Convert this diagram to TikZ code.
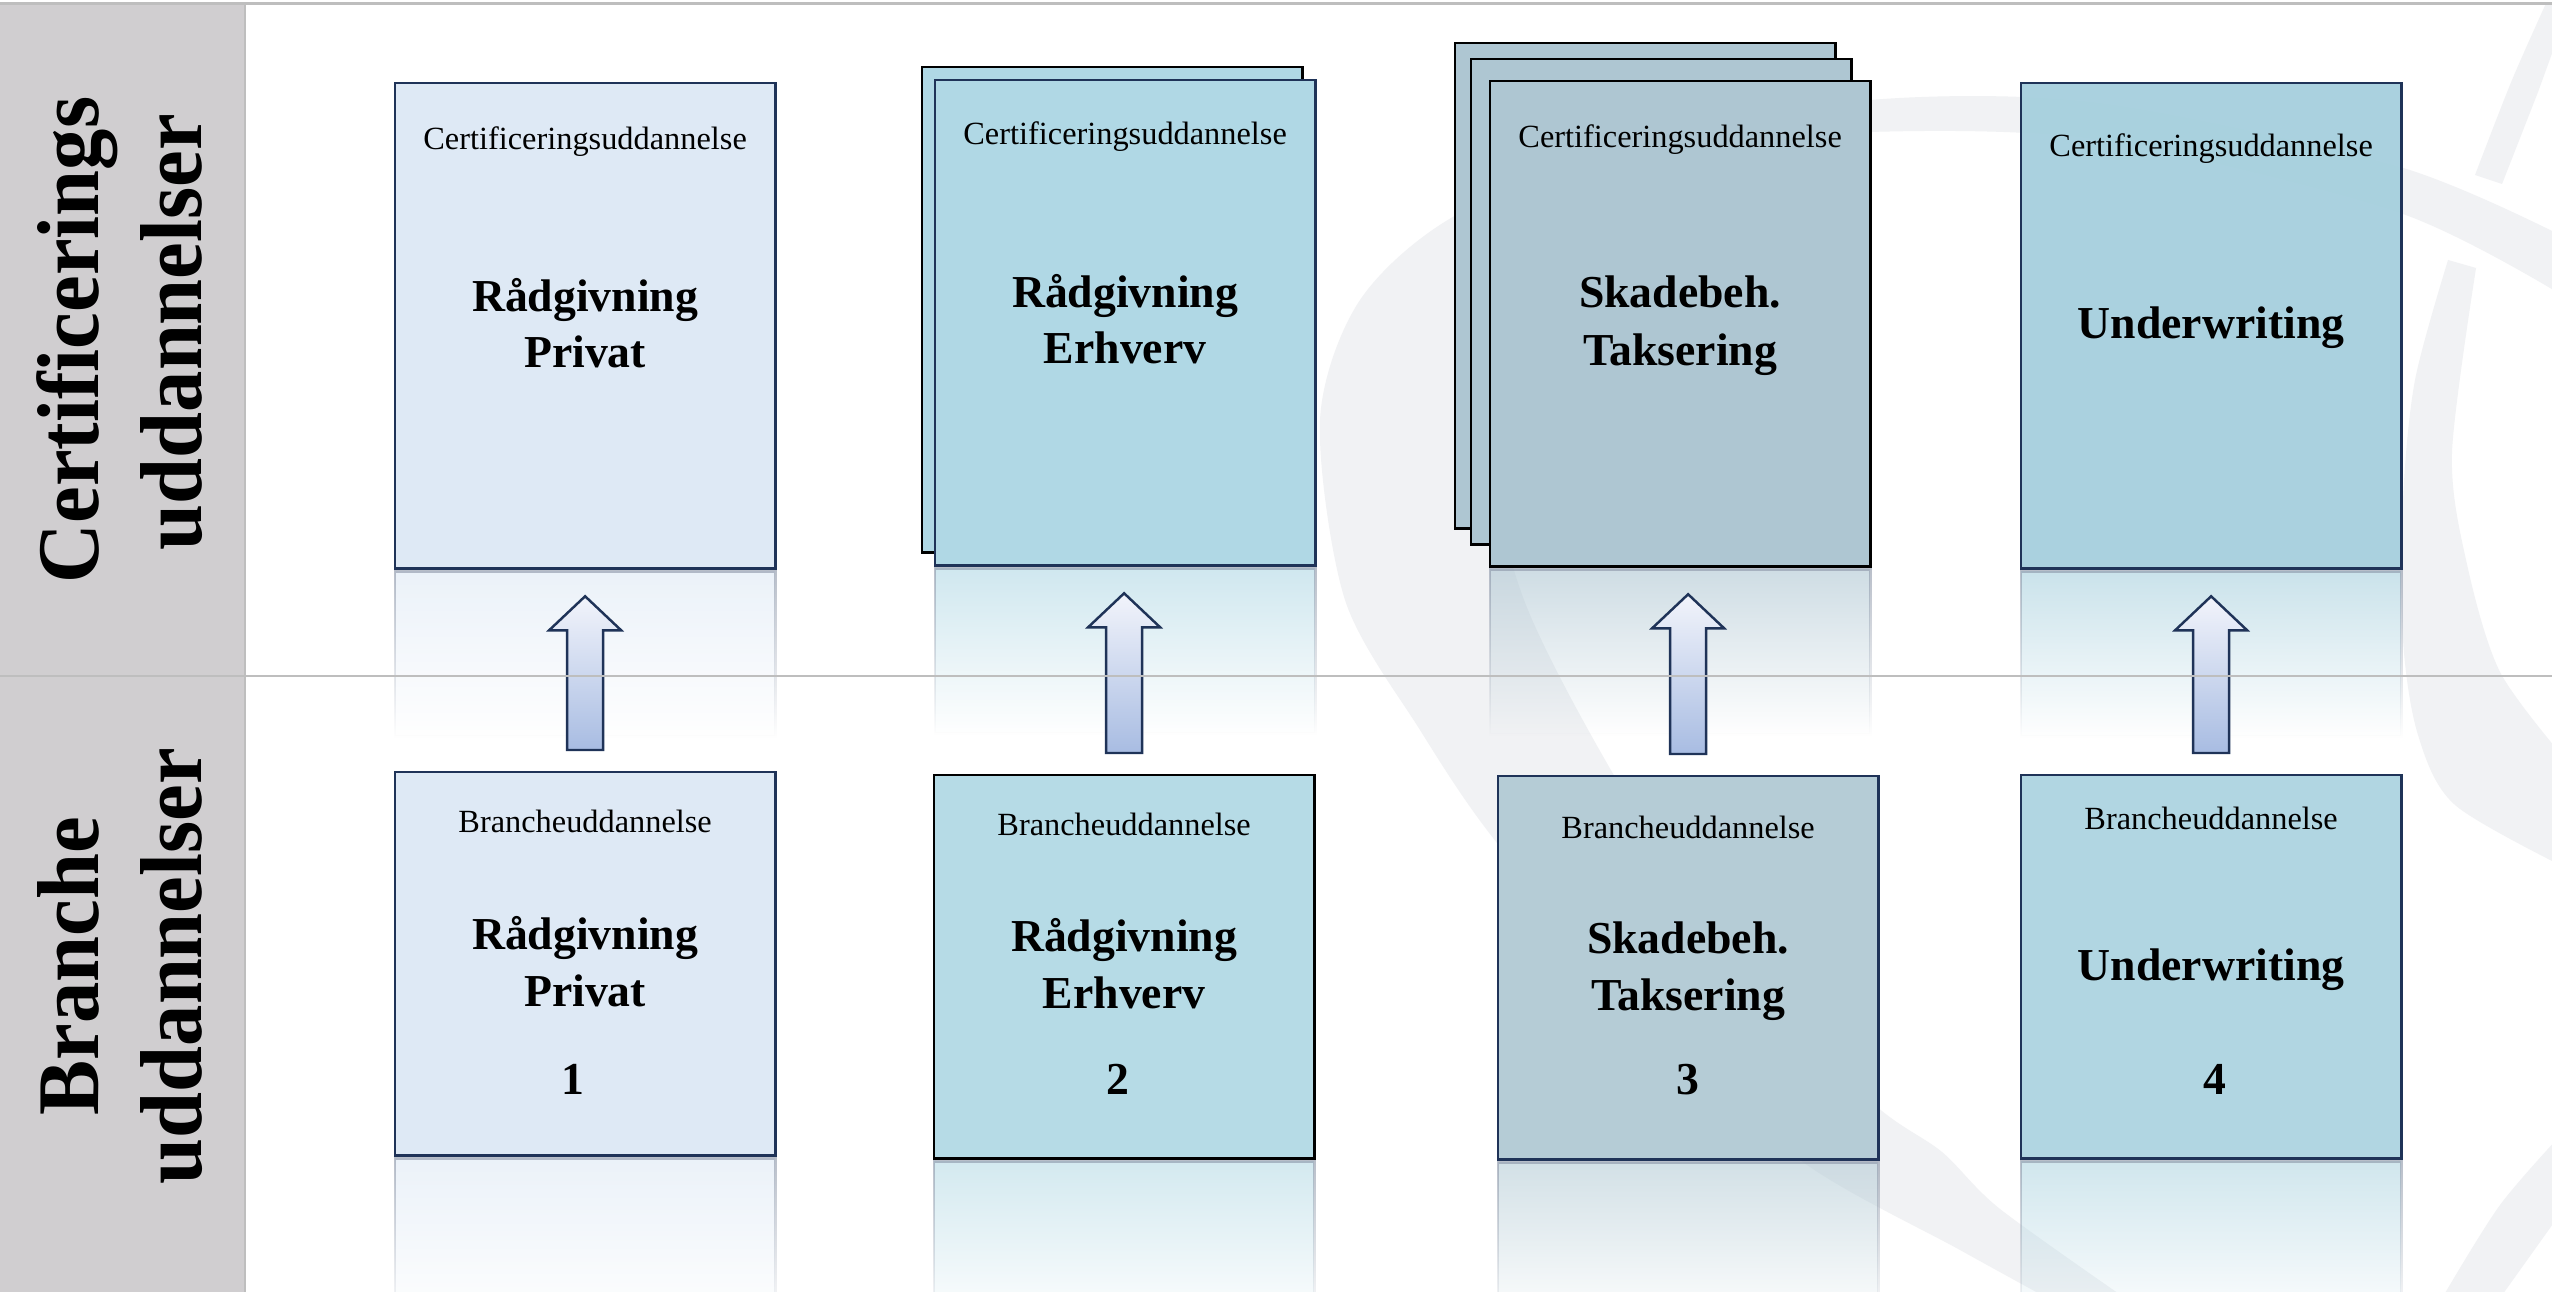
\documentclass[tikz,border=0pt]{standalone}
\usepackage{fontspec}
\setmainfont{Liberation Serif}
\usepackage{graphicx}
\usetikzlibrary{calc,fadings}

\definecolor{panelgray}{HTML}{D0CED0}
\definecolor{linegray}{HTML}{BEBEBE}
\definecolor{navy}{HTML}{1F3358}
\definecolor{swoosh}{HTML}{F1F2F4}
\definecolor{reflline}{HTML}{8A94A6}
\definecolor{cA}{HTML}{DEE9F5}
\definecolor{cB}{HTML}{B0D8E5}
\definecolor{cC}{HTML}{AEC6D2}
\definecolor{cD}{HTML}{A7D0DE}
\definecolor{cBb}{HTML}{B6DBE6}
\definecolor{cCb}{HTML}{B5CCD6}
\definecolor{cDb}{HTML}{B1D6E2}
\definecolor{arrTop}{HTML}{F2F4FB}
\definecolor{arrMid}{HTML}{CAD6EF}
\definecolor{arrBot}{HTML}{A8BCE2}

\tikzfading[name=reflfade, top color=transparent!40, bottom color=transparent!100]

\tikzset{
  card/.style={line width=0.8pt, minimum width=3.8cm, minimum height=4.85cm, anchor=north west, inner sep=0pt, outer sep=0pt},
  lowcard/.style={card, minimum height=3.83cm},
  sublabel/.style={font=\fontsize{9.2}{11}\selectfont, inner sep=0pt, anchor=base},
  mainlabel/.style={font=\fontsize{13}{15}\selectfont\bfseries, inner sep=0pt, anchor=base},
  sidelabel/.style={font=\fontsize{25}{29}\selectfont\bfseries, inner sep=0pt, anchor=base, rotate=90},
  uparrow/.style={draw=navy, line width=0.7pt, line join=miter, top color=arrTop, middle color=arrMid, bottom color=arrBot},
  reflect/.style={draw=reflline, line width=0.8pt, path fading=reflfade},
}

\newcommand{\reflbox}[2]{%
  \path[reflect, fill=#2] ($(#1.south west)+(0,3)$) rectangle ($(#1.south east)+(0,168)$);}
\newcommand{\blockarrow}[2]{%
  \draw[uparrow] ($(#1.north)+(-18,-22)$) -- ($(#1.north |- #2.south)+(-18,62)$)
    -- ($(#1.north |- #2.south)+(-36,62)$) -- ($(#1.north |- #2.south)+(0,28)$)
    -- ($(#1.north |- #2.south)+(36,62)$) -- ($(#1.north |- #2.south)+(18,62)$)
    -- ($(#1.north)+(18,-22)$) -- cycle;}

\begin{document}
\begin{tikzpicture}[x=0.01cm, y=-0.01cm]
\useasboundingbox (0,0) rectangle (2552,1292);
\fill[white] (0,0) rectangle (2552,1292);

% background swooshes
\begin{scope}
\clip (246,6) rectangle (2552,1292);
\fill[swoosh] plot[smooth] coordinates {(2570,240) (2400,167) (2100,103) (1870,100) (1650,140) (1458,214) (1360,300) (1320,420) (1345,600) (1420,730) (1497,843) (1650,1020) (1800,1160) (1960,1250) (2060,1305)}
  -- plot[smooth] coordinates {(2135,1305) (2000,1209) (1942,1152) (1877,1107) (1750,990) (1612,772) (1524,600) (1490,450) (1500,300) (1600,200) (1750,150) (1870,132) (2100,140) (2400,213) (2570,300)} -- cycle;
\fill[swoosh] plot[smooth] coordinates {(2552,-10) (2512,80) (2475,175)} -- (2502,184)
  -- plot[smooth] coordinates {(2538,92) (2575,-10)} -- cycle;
\fill[swoosh] plot[smooth] coordinates {(2448,260) (2415,380) (2403,500) (2403,640) (2418,735) (2455,805) (2570,870)}
  -- plot[smooth] coordinates {(2570,765) (2500,672) (2466,560) (2452,452) (2476,268)} -- cycle;
\fill[swoosh] plot[smooth] coordinates {(2570,1125) (2500,1205) (2438,1305)}
  -- plot[smooth] coordinates {(2495,1305) (2570,1200)} -- cycle;
\end{scope}

% left panel
\fill[panelgray] (0,5) rectangle (245,1292);
\draw[linegray, line width=0.6pt] (245,5) -- (245,1292);

% reflections (drawn after boxes are placed, so declare boxes first invisibly)
\node[card] (t1) at (395,83) {};
\node[card] (t2) at (935,80) {};
\node[card] (t3) at (1490,81) {};
\node[card] (t4) at (2021,83) {};
\node[lowcard] (b1) at (395,772) {};
\node[lowcard] (b2) at (934,775) {};
\node[lowcard] (b3) at (1498,776) {};
\node[lowcard] (b4) at (2021,775) {};

\reflbox{t1}{cA}
\reflbox{t2}{cB}
\reflbox{t3}{cC}
\reflbox{t4}{cD}
\reflbox{b1}{cA}
\reflbox{b2}{cBb}
\reflbox{b3}{cCb}
\reflbox{b4}{cDb}

% stacked back layers
\node[card, draw=black, fill=cB] (t2back) at (922,67) {};
\node[card, draw=black, fill=cC] (t3back) at (1455,43) {};
\node[card, draw=black, fill=cC] (t3mid) at (1471,59) {};

% visible boxes
\path (t1.north west) node[card, draw=navy, fill=cA] (t1f) {};
\path (t2.north west) node[card, draw=navy, fill=cB] (t2f) {};
\path (t3.north west) node[card, draw=black, fill=cC] (t3f) {};
\path (t4.north west) node[card, draw=navy, fill=cD, fill opacity=0.96] (t4f) {};
\path (b1.north west) node[lowcard, draw=navy, fill=cA] (b1f) {};
\path (b2.north west) node[lowcard, draw=black, fill=cBb] (b2f) {};
\path (b3.north west) node[lowcard, draw=navy, fill=cCb] (b3f) {};
\path (b4.north west) node[lowcard, draw=navy, fill=cDb] (b4f) {};

% texts top row
\node[sublabel] (t1s) at ($(t1.north)+(0,67)$) {Certificeringsuddannelse};
\node[mainlabel] (t1a) at ($(t1.north)+(0,229)$) {Rådgivning};
\node[mainlabel] (t1b) at ($(t1.north)+(0,285)$) {Privat};
\node[sublabel] (t2s) at ($(t2.north)+(0,65)$) {Certificeringsuddannelse};
\node[mainlabel] (t2a) at ($(t2.north)+(0,228)$) {Rådgivning};
\node[mainlabel] (t2b) at ($(t2.north)+(0,284)$) {Erhverv};
\node[sublabel] (t3s) at ($(t3.north)+(0,67)$) {Certificeringsuddannelse};
\node[mainlabel] (t3a) at ($(t3.north)+(0,227)$) {Skadebeh.};
\node[mainlabel] (t3b) at ($(t3.north)+(0,285)$) {Taksering};
\node[sublabel] (t4s) at ($(t4.north)+(0,74)$) {Certificeringsuddannelse};
\node[mainlabel] (t4a) at ($(t4.north)+(0,256)$) {Underwriting};

% texts bottom row
\node[sublabel] (b1s) at ($(b1.north)+(0,61)$) {Brancheuddannelse};
\node[mainlabel] (b1a) at ($(b1.north)+(0,177)$) {Rådgivning};
\node[mainlabel] (b1b) at ($(b1.north)+(0,234)$) {Privat};
\node[mainlabel] (b1n) at ($(b1.north)+(-12,322)$) {1};
\node[sublabel] (b2s) at ($(b2.north)+(0,61)$) {Brancheuddannelse};
\node[mainlabel] (b2a) at ($(b2.north)+(0,176)$) {Rådgivning};
\node[mainlabel] (b2b) at ($(b2.north)+(0,233)$) {Erhverv};
\node[mainlabel] (b2n) at ($(b2.north)+(-6,319)$) {2};
\node[sublabel] (b3s) at ($(b3.north)+(0,62)$) {Brancheuddannelse};
\node[mainlabel] (b3a) at ($(b3.north)+(0,177)$) {Skadebeh.};
\node[mainlabel] (b3b) at ($(b3.north)+(0,234)$) {Taksering};
\node[mainlabel] (b3n) at ($(b3.north)+(0,318)$) {3};
\node[sublabel] (b4s) at ($(b4.north)+(0,55)$) {Brancheuddannelse};
\node[mainlabel] (b4a) at ($(b4.north)+(0,205)$) {Underwriting};
\node[mainlabel] (b4n) at ($(b4.north)+(4,319)$) {4};

% arrows
\blockarrow{b1}{t1}
\blockarrow{b2}{t2}
\blockarrow{b3}{t3}
\blockarrow{b4}{t4}

% side labels
\node[sidelabel] (lc1) at (98,340) {\scalebox{0.94}[1]{Certificerings}};
\node[sidelabel] (lc2) at (201,332) {\scalebox{0.94}[1]{uddannelser}};
\node[sidelabel] (lb1) at (98,966) {\scalebox{0.94}[1]{Branche}};
\node[sidelabel] (lb2) at (201,966) {\scalebox{0.94}[1]{uddannelser}};

% divider and top line
\draw[linegray, line width=0.6pt] (0,676) -- (2552,676);
\draw[linegray, line width=0.9pt] (0,3.5) -- (2552,3.5);
\end{tikzpicture}
\end{document}
